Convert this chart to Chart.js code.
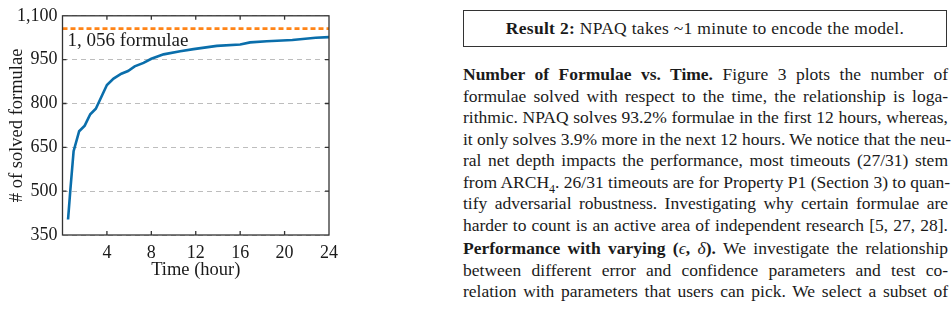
<!DOCTYPE html>
<html lang="en">
<head>
  <meta charset="UTF-8">
  <title>Number of formulae vs. time</title>
  <script src="https://cdn.jsdelivr.net/npm/chart.js"></script>
  <style>
    html, body {
      margin: 0;
      padding: 0;
      background: #fff;
    }
    body {
      width: 952px;
      height: 309px;
      position: relative;
      overflow: hidden;
      font-family: "Liberation Serif", "DejaVu Serif", serif;
      color: #1a1a1a;
    }
    #chart-box {
      position: absolute;
      left: 0;
      top: 0;
      width: 345px;
      height: 309px;
    }
    .result {
      position: absolute;
      left: 463px;
      top: 10px;
      width: 482px;
      height: 35px;
      border: 1.3px solid #333;
      font-size: 17.5px;
      letter-spacing: 0.3px;
      line-height: 35px;
      text-align: center;
    }
    .text {
      position: absolute;
      left: 463px;
      width: 485px;
      font-size: 17.5px;
      line-height: 21.5px;
    }
    .text div {
      text-align: justify;
      text-align-last: justify;
      white-space: nowrap;
    }
    .math { font-style: italic; font-weight: normal; }
  </style>
</head>
<body>
  <div id="chart-box"><canvas id="formulae-chart"></canvas></div>

  <div class="result"><b>Result 2:</b> NPAQ takes ~1 minute to encode the model.</div>

  <div class="text" style="top: 64px;">
    <div><b>Number of Formulae vs. Time.</b> Figure 3 plots the number of</div>
    <div>formulae solved with respect to the time, the relationship is loga-</div>
    <div>rithmic. NPAQ solves 93.2% formulae in the first 12 hours, whereas,</div>
    <div>it only solves 3.9% more in the next 12 hours. We notice that the neu-</div>
    <div>ral net depth impacts the performance, most timeouts (27/31) stem</div>
    <div>from ARCH<sub style="font-size: 12px; line-height: 0;">4</sub>. 26/31 timeouts are for Property P1 (Section 3) to quan-</div>
    <div>tify adversarial robustness. Investigating why certain formulae are</div>
    <div>harder to count is an active area of independent research [5, 27, 28].</div>
  </div>
  <div class="text" style="top: 238px;">
    <div><b>Performance with varying (<span class="math">ϵ</span>, <span class="math">δ</span>).</b> We investigate the relationship</div>
    <div>between different error and confidence parameters and test co-</div>
    <div>relation with parameters that users can pick. We select a subset of</div>
  </div>

  <script>
    // solved formulae over time
    const hours = [0.5, 0.7, 1.0, 1.5, 2.0, 2.5, 3.0, 4.0, 4.6, 5.3, 5.9, 6.5, 7.3, 8.0, 8.8, 9.1, 10.6, 11.8, 13.9, 16.0, 16.9, 18.4, 20.7, 22.8, 24];
    const solved = [403, 501, 637, 705, 724, 763, 782, 863, 885, 902, 911, 927, 939, 953, 964, 968, 979, 986, 997, 1002, 1009, 1013, 1017, 1025, 1027];

    // total number of formulae (dashed reference line)
    const totalHours = [0, 24];
    const totalFormulae = [1056, 1056];
    const totalLabel = '1, 056 formulae';

    const xTicks = [4, 8, 12, 16, 20, 24];
    const yTicks = [350, 500, 650, 800, 950, 1100];

    const SERIF = '"Liberation Serif", "DejaVu Serif", serif';
    const INK = '#1a1a1a';

    // frame, inward tick marks and the label of the total line
    const framePlugin = {
      id: 'frame',
      afterDraw(chart) {
        const { ctx, chartArea: a, scales: { x, y } } = chart;
        ctx.save();
        ctx.strokeStyle = '#333';
        ctx.lineWidth = 1.3;
        ctx.beginPath();
        xTicks.slice(0, -1).forEach(t => {
          const px = x.getPixelForValue(t);
          ctx.moveTo(px, a.bottom); ctx.lineTo(px, a.bottom - 4);
          ctx.moveTo(px, a.top); ctx.lineTo(px, a.top + 4);
        });
        yTicks.slice(1, -1).forEach(t => {
          const py = y.getPixelForValue(t);
          ctx.moveTo(a.left, py); ctx.lineTo(a.left + 4, py);
          ctx.moveTo(a.right, py); ctx.lineTo(a.right - 4, py);
        });
        ctx.stroke();
        ctx.strokeRect(a.left, a.top, a.right - a.left, a.bottom - a.top);

        ctx.fillStyle = INK;
        ctx.font = '19px ' + SERIF;
        ctx.textBaseline = 'middle';
        ctx.fillText(totalLabel, x.getPixelForValue(totalHours[0]) + 5, y.getPixelForValue(totalFormulae[0]) + 12);
        ctx.restore();
      }
    };

    new Chart(document.getElementById('formulae-chart'), {
      type: 'line',
      data: {
        datasets: [
          {
            data: hours.map((h, i) => ({ x: h, y: solved[i] })),
            borderColor: '#0a6eab',
            borderWidth: 2.6,
            pointRadius: 0,
            tension: 0
          },
          {
            data: totalHours.map((h, i) => ({ x: h, y: totalFormulae[i] })),
            borderColor: '#ff8417',
            borderWidth: 2.6,
            borderDash: [5, 3],
            pointRadius: 0
          }
        ]
      },
      options: {
        responsive: true,
        maintainAspectRatio: false,
        animation: false,
        layout: { padding: { top: 13, right: 15, left: 0, bottom: 0 } },
        plugins: { legend: { display: false }, tooltip: { enabled: false } },
        scales: {
          x: {
            type: 'linear',
            min: 0,
            max: 24,
            afterFit: s => { s.height = 74; },
            afterBuildTicks: s => { s.ticks = xTicks.map(v => ({ value: v })); },
            grid: { display: false, drawTicks: false },
            border: { display: false },
            ticks: { color: INK, padding: 7, maxRotation: 0, font: { family: SERIF, size: 18 } },
            title: {
              display: true,
              text: 'Time (hour)',
              color: INK,
              font: { family: SERIF, size: 18.5 },
              padding: { top: 0, bottom: 28 }
            }
          },
          y: {
            min: 350,
            max: 1100,
            afterFit: s => { s.width = 62.5; },
            afterBuildTicks: s => { s.ticks = yTicks.map(v => ({ value: v })); },
            grid: { color: '#bdbdbd', lineWidth: 1, drawTicks: false },
            border: { display: false, dash: [5, 4] },
            ticks: {
              color: INK,
              padding: 5,
              font: { family: SERIF, size: 18 },
              callback: v => v.toLocaleString('en-US')
            },
            title: {
              display: true,
              text: '# of solved formulae',
              color: INK,
              font: { family: SERIF, size: 18.5 },
              padding: { top: 6, bottom: 0 }
            }
          }
        }
      },
      plugins: [framePlugin]
    });
  </script>
</body>
</html>
